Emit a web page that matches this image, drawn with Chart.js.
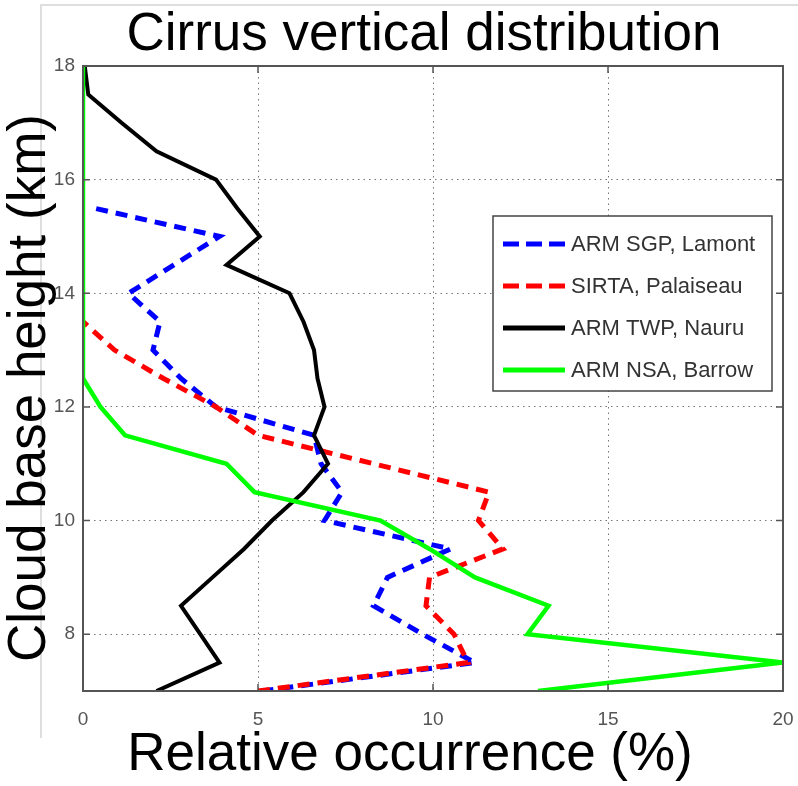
<!DOCTYPE html>
<html>
<head>
<meta charset="utf-8">
<title>Cirrus vertical distribution</title>
<script src="https://cdn.jsdelivr.net/npm/chart.js@4.4.1/dist/chart.umd.min.js"></script>
<style>
  html, body { margin: 0; padding: 0; background: #fff; }
  #wrap { width: 798px; height: 786px; }
</style>
</head>
<body>
<div id="wrap"><canvas id="cirrusChart" width="798" height="786"></canvas></div>
<script>
// cloud base height bins (km)
const heights = [7, 7.5, 8, 8.5, 9, 9.5, 10, 10.5, 11, 11.5, 12, 12.5, 13, 13.5, 14, 14.5, 15, 15.5, 16, 16.5, 17, 17.5, 18];

// relative occurrence (%) per height bin, null = no data
const sgpLamont = [5.1, 11.2, 9.7, 8.3, 8.7, 10.5, 6.9, 7.4, 6.8, 6.6, 3.8, 2.8, 2.0, 2.2, 1.3, 2.6, 3.9, 0.3, null, null, null, null, null];
const sirtaPalaiseau = [5.0, 11.0, 10.6, 9.8, 9.9, 12.0, 11.3, 11.6, 8.3, 5.0, 3.8, 2.3, 0.9, 0, null, null, null, null, null, null, null, null, null];
const twpNauru = [2.1, 3.9, 3.35, 2.8, 3.7, 4.6, 5.4, 6.3, 7.0, 6.6, 6.9, 6.7, 6.6, 6.3, 5.9, 4.1, 5.05, 4.4, 3.8, 2.1, 1.1, 0.15, 0.05];
const nsaBarrow = [13.0, 20.0, 12.7, 13.3, 11.2, 9.9, 8.5, 4.9, 4.1, 1.2, 0.5, 0, 0, 0, 0, 0, 0, 0, 0, 0, 0, 0, 0];

const seriesNames = ['ARM SGP, Lamont', 'SIRTA, Palaiseau', 'ARM TWP, Nauru', 'ARM NSA, Barrow'];
const xTicks = [0, 5, 10, 15, 20];
const yTicks = [8, 10, 12, 14, 16, 18];

const FONT = "'Liberation Sans', Arial, sans-serif";

// pair each value with its height, drop missing bins
function toPoints(values) {
    return heights
        .map((h, i) => ({ x: values[i], y: h }))
        .filter(p => p.x !== null);
}

const styles = [
    { color: '#0000ff', width: 5, dash: [12, 8], legendDash: [16, 7] },
    { color: '#ff0000', width: 5, dash: [12, 8], legendDash: [16, 7] },
    { color: '#000000', width: 4, dash: [], legendDash: [] },
    { color: '#00ff00', width: 4.5, dash: [], legendDash: [] }
];

const seriesValues = [sgpLamont, sirtaPalaiseau, twpNauru, nsaBarrow];

const datasets = seriesValues.map((vals, i) => ({
    label: seriesNames[i],
    data: toPoints(vals),
    borderColor: styles[i].color,
    borderWidth: styles[i].width,
    borderDash: styles[i].dash,
    pointRadius: 0,
    tension: 0,
    fill: false,
    order: 4 - i // later series on top, like the original
}));

// frame, inward ticks, titles and legend box
const decorPlugin = {
    id: 'decor',
    beforeDraw(chart) {
        const ctx = chart.ctx;
        ctx.save();
        ctx.fillStyle = '#fff';
        ctx.fillRect(0, 0, chart.width, chart.height);
        ctx.strokeStyle = '#dedede';
        ctx.lineWidth = 2;
        ctx.beginPath();
        ctx.moveTo(41, 738);
        ctx.lineTo(41, 5);
        ctx.lineTo(chart.width, 5);
        ctx.stroke();
        ctx.restore();
    },
    afterDraw(chart) {
        const ctx = chart.ctx;
        const a = chart.chartArea;
        const xs = chart.scales.x;
        const ys = chart.scales.y;
        ctx.save();

        // axes box
        ctx.strokeStyle = '#555';
        ctx.lineWidth = 2;
        ctx.strokeRect(a.left, a.top, a.right - a.left, a.bottom - a.top);

        // inward tick marks
        ctx.lineWidth = 1.5;
        ctx.beginPath();
        xTicks.forEach(v => {
            const px = xs.getPixelForValue(v);
            ctx.moveTo(px, a.bottom); ctx.lineTo(px, a.bottom - 7);
            ctx.moveTo(px, a.top); ctx.lineTo(px, a.top + 7);
        });
        yTicks.forEach(v => {
            const py = ys.getPixelForValue(v);
            ctx.moveTo(a.left, py); ctx.lineTo(a.left + 7, py);
            ctx.moveTo(a.right, py); ctx.lineTo(a.right - 7, py);
        });
        ctx.stroke();

        // titles
        ctx.fillStyle = '#000';
        ctx.font = '53px ' + FONT;
        ctx.textAlign = 'center';
        ctx.textBaseline = 'alphabetic';
        ctx.fillText('Cirrus vertical distribution', 424, 50);
        ctx.fillText('Relative occurrence (%)', 410, 770);
        ctx.save();
        ctx.translate(45, 388);
        ctx.rotate(-Math.PI / 2);
        ctx.fillText('Cloud base height (km)', 0, 0);
        ctx.restore();

        // legend
        const box = { left: 493, top: 216, right: 772, bottom: 391 };
        ctx.fillStyle = '#fff';
        ctx.fillRect(box.left, box.top, box.right - box.left, box.bottom - box.top);
        ctx.strokeStyle = '#444';
        ctx.lineWidth = 1.5;
        ctx.strokeRect(box.left, box.top, box.right - box.left, box.bottom - box.top);
        ctx.font = '22px ' + FONT;
        ctx.textAlign = 'left';
        ctx.textBaseline = 'middle';
        seriesNames.forEach((name, i) => {
            const yy = 244 + i * 42;
            ctx.strokeStyle = styles[i].color;
            ctx.lineWidth = 5;
            ctx.setLineDash(styles[i].legendDash);
            ctx.beginPath();
            ctx.moveTo(503, yy);
            ctx.lineTo(565, yy);
            ctx.stroke();
            ctx.setLineDash([]);
            ctx.fillStyle = '#333';
            ctx.fillText(name, 571, yy + 1);
        });

        ctx.restore();
    }
};

const ctx = document.getElementById('cirrusChart').getContext('2d');

const cirrusChart = new Chart(ctx, {
    type: 'line',
    data: { datasets: datasets },
    options: {
        responsive: false,
        animation: false,
        events: [],
        layout: { padding: { top: 66, right: 15, left: 0, bottom: 0 } },
        plugins: {
            legend: { display: false },
            title: { display: false },
            tooltip: { enabled: false }
        },
        scales: {
            x: {
                type: 'linear',
                min: 0,
                max: 20,
                afterBuildTicks: scale => { scale.ticks = xTicks.map(v => ({ value: v })); },
                afterFit: scale => {
                    scale.height = 95;
                    // tick padding would otherwise eat into the right margin
                    scale.paddingLeft = 0;
                    scale.paddingRight = 0;
                },
                grid: { color: '#777', lineWidth: 1, drawTicks: false },
                border: { display: false, dash: [1.5, 4] },
                ticks: { color: '#555', padding: 17, font: { family: FONT, size: 19 }, maxRotation: 0 }
            },
            y: {
                type: 'linear',
                min: 7,
                max: 18,
                afterBuildTicks: scale => { scale.ticks = yTicks.map(v => ({ value: v })); },
                afterFit: scale => { scale.width = 83; },
                grid: { color: '#777', lineWidth: 1, drawTicks: false },
                border: { display: false, dash: [1.5, 4] },
                ticks: { color: '#555', padding: 8, font: { family: FONT, size: 19 } }
            }
        }
    },
    plugins: [decorPlugin]
});
</script>
</body>
</html>
